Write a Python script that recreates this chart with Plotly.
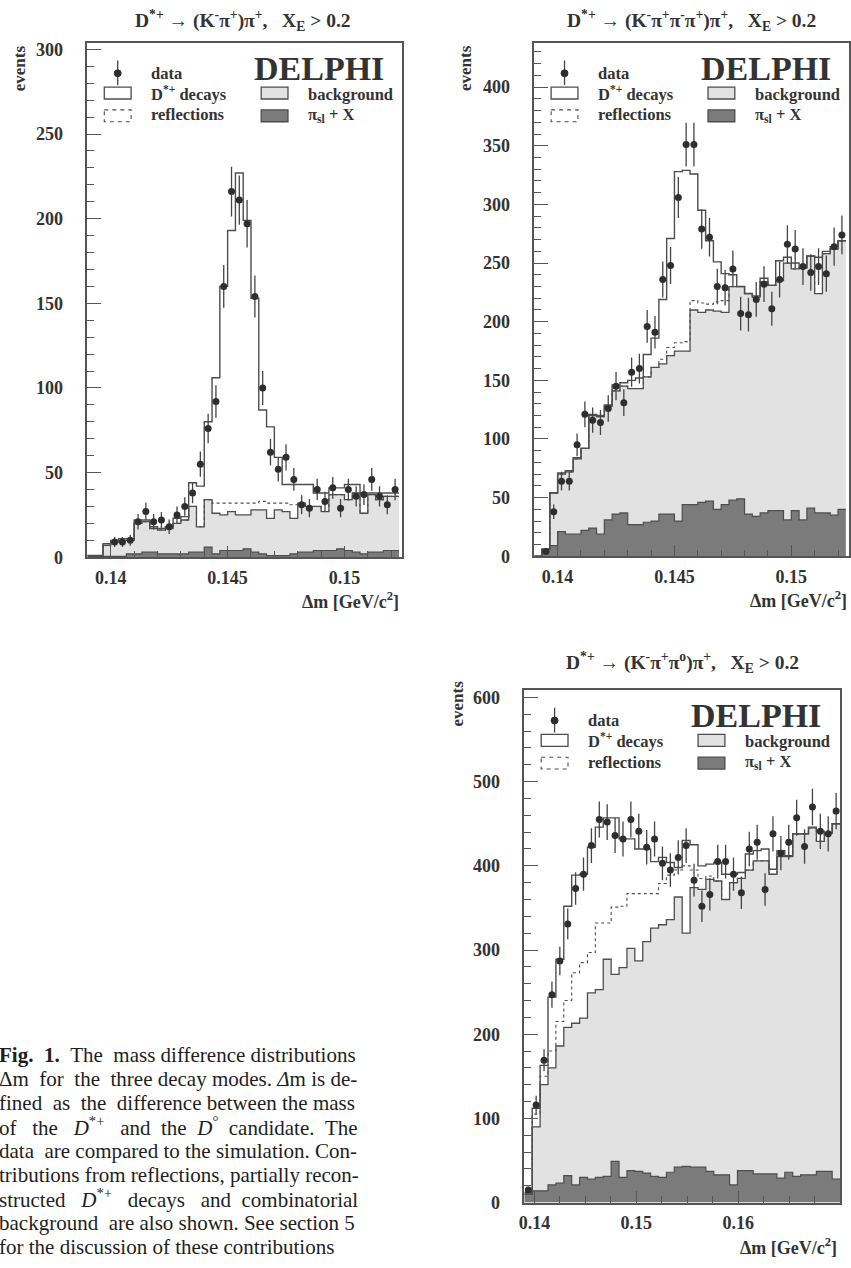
import math
import re
import plotly.graph_objects as go

W, H = 851, 1268

# ---------------- binning ----------------
BIN_LO = 0.139
BIN_W_A = 0.0003333333   # panels 1 and 2
BIN_W_B = 0.000775       # panel 3
N_BINS = 40

# ---------------- panel 1: D*+ -> (K- pi+) pi+ ----------------
p1_data = [None, None, None, 9, 9, 10, 21, 27, 21, 22, 18, 25, 30, 38, 55, 76, 92, 160, 216, 211,
           197, 154, 100, 62, 52, 59, 46, 31, 29, 40, 33, 41, 29, 40, 36, 37, 46, 36, 31, 40]
p1_total = [1, 1, 8, 10, 11, 11, 22, 22, 18, 17, 18, 23, 24, 44, 42, 80, 106, 160, 193, 227,
            199, 153, 87, 77, 59, 43, 43, 43, 43, 38, 38, 41, 41, 43, 43, 38, 38, 38, 38, 38]
p1_bkg_refl = [1, 1, 7, 9, 10, 10, 20, 21, 17, 16, 17, 20, 22, 30, 18, 34, 32, 32, 32, 32,
               32, 32, 33, 32, 32, 32, 31, 32, 30, 30, 27, 37, 37, 34, 38, 26, 37, 34, 36, 36]
p1_bkg = [1, 1, 7, 9, 10, 10, 20, 21, 17, 16, 17, 20, 22, 30, 18, 34, 26, 25, 27, 25,
          25, 28, 28, 23, 28, 27, 23, 32, 30, 30, 27, 37, 37, 34, 38, 26, 37, 34, 36, 36]
p1_pisl = [0.5, 0.5, 0.5, 0.5, 0.5, 2, 2, 3, 3, 2, 2, 2, 2, 3, 3, 6, 2, 4, 4, 4,
           5, 3, 2, 1, 1, 1, 2, 3, 3, 4, 4, 4, 5, 4, 3, 2, 3, 3, 4, 4]

# ---------------- panel 2: D*+ -> (K- pi+ pi- pi+) pi+ ----------------
p2_data = [None, 4, 38, 64, 64, 95, 121, 116, 114, 126, 145, 131, 157, 160, 196, 191, 236, 248, 306, 351,
           351, 279, 272, 230, 229, 245, 207, 206, 219, 232, 211, 236, 266, 262, 247, 242, 247, 241, 264, 274]
p2_total = [0, 6, 54, 71, 73, 84, 92, 121, 120, 129, 146, 148, 150, 152, 172, 186, 219, 271, 328, 329,
            326, 295, 269, 251, 241, 240, 230, 224, 222, 237, 231, 252, 255, 250, 246, 256, 255, 260, 264, 269]
p2_bkg_refl = [0, 6, 54, 70, 72, 83, 92, 120, 119, 128, 141, 145, 143, 143, 153, 161, 168, 178, 182, 183,
               218, 216, 215, 217, 218, 230, 230, 224, 221, 234, 231, 235, 250, 245, 246, 256, 224, 258, 262, 269]
p2_bkg = [0, 6, 54, 70, 72, 83, 92, 120, 119, 128, 141, 145, 143, 143, 153, 161, 164, 171, 175, 175,
          210, 208, 210, 209, 208, 230, 230, 224, 221, 234, 231, 235, 250, 245, 246, 256, 224, 258, 262, 269]
p2_pisl = [0, 6, 9, 21, 19, 19, 22, 24, 19, 31, 36, 37, 27, 27, 29, 30, 36, 36, 30, 44,
           44, 46, 47, 40, 44, 48, 49, 36, 34, 37, 39, 39, 31, 39, 31, 41, 37, 37, 35, 40]

# ---------------- panel 3: D*+ -> (K- pi+ pi0) pi+ ----------------
p3_data = [15, 116, 169, 247, 287, 331, 373, 390, 424, 455, 452, 436, 432, 455, 441, 422, 432, 403, 395, 410,
           424, 383, 352, 366, 405, 405, 390, 368, 420, 428, 372, 438, 415, 428, 457, 423, 470, 441, 438, 465]
p3_total = [12, 112, 163, 244, 289, 352, 389, 390, 422, 446, 457, 457, 432, 432, 420, 420, 405, 410, 404, 398,
            430, 425, 400, 402, 404, 390, 390, 392, 414, 418, 420, 396, 418, 412, 438, 438, 446, 441, 439, 450]
p3_bkg_refl = [10, 105, 150, 180, 215, 240, 273, 285, 297, 332, 332, 351, 352, 367, 367, 367, 367, 379, 389, 395,
               400, 395, 385, 388, 382, 360, 380, 385, 395, 406, 406, 390, 411, 411, 438, 438, 445, 429, 439, 450]
p3_bkg = [10, 90, 140, 160, 186, 208, 213, 219, 249, 253, 289, 271, 279, 302, 287, 310, 326, 330, 336, 363,
          320, 374, 372, 384, 382, 360, 380, 385, 395, 406, 406, 390, 411, 411, 438, 438, 445, 429, 439, 450]
p3_pisl = [10, 14, 14, 21, 23, 32, 21, 30, 28, 30, 31, 49, 30, 38, 37, 35, 31, 30, 36, 42,
           43, 42, 42, 37, 33, 33, 21, 38, 38, 34, 34, 34, 29, 36, 31, 33, 33, 37, 37, 28]

# ---------------- tick labels / texts ----------------
p12_xticks = [0.14, 0.145, 0.15]
p12_xticktext = ["0.14", "0.145", "0.15"]
p3_xticks = [0.14, 0.15, 0.16, 0.17]
p3_xticktext = ["0.14", "0.15", "0.16", "0.17"]
p1_yticks = [0, 50, 100, 150, 200, 250, 300]
p2_yticks = [0, 50, 100, 150, 200, 250, 300, 350, 400]
p3_yticks = [0, 100, 200, 300, 400, 500, 600]

titles = [
    "D<sup>*+</sup> \u2192 (K<sup>-</sup>\u03c0<sup>+</sup>)\u03c0<sup>+</sup>,\u00a0\u00a0 X<sub>E</sub> > 0.2",
    "D<sup>*+</sup> \u2192 (K<sup>-</sup>\u03c0<sup>+</sup>\u03c0<sup>-</sup>\u03c0<sup>+</sup>)\u03c0<sup>+</sup>,\u00a0\u00a0 X<sub>E</sub> > 0.2",
    "D<sup>*+</sup> \u2192 (K<sup>-</sup>\u03c0<sup>+</sup>\u03c0<sup>o</sup>)\u03c0<sup>+</sup>,\u00a0\u00a0 X<sub>E</sub> > 0.2",
]

caption_lines = [
    "<b>Fig. 1.</b> The mass difference distributions",
    "\u0394m for the three decay modes. <i>\u0394</i>m is de-",
    "fined as the difference between the mass",
    "of the <i>D</i><sup>*+</sup> and the <i>D</i><sup>\u00b0</sup> candidate. The",
    "data are compared to the simulation. Con-",
    "tributions from reflections, partially recon-",
    "structed <i>D</i><sup>*+</sup> decays and combinatorial",
    "background are also shown. See section 5",
    "for the discussion of these contributions",
]

# ---------------- styling ----------------
SERIF = "Liberation Serif"
LINE = "#4d4d4d"
FRAME = "#555555"
LIGHT = "#e2e2e2"
DARK = "#7b7b7b"
TXT = "#333333"

panels = [
    dict(n="", box=(83, 40, 400, 560), xr=[0.139, 0.15247], yr=[0, 304], bw=BIN_W_A,
         data=p1_data, total=p1_total, br=p1_bkg_refl, bkg=p1_bkg, pisl=p1_pisl,
         xt=p12_xticks, xtt=p12_xticktext, yt=p1_yticks, xminor=0.001, yminor=10,
         title=titles[0], title_xy=(240, 18), ev_xy=(14, 66), dm_xy=(399, 604)),
    dict(n="2", box=(533, 40, 850, 559), xr=[0.139, 0.15247], yr=[0, 438], bw=BIN_W_A,
         data=p2_data, total=p2_total, br=p2_bkg_refl, bkg=p2_bkg, pisl=p2_pisl,
         xt=p12_xticks, xtt=p12_xticktext, yt=p2_yticks, xminor=0.001, yminor=10,
         title=titles[1], title_xy=(691, 18), ev_xy=(464, 66), dm_xy=(850, 603)),
    dict(n="3", box=(523, 694, 841, 1212), xr=[0.139, 0.170], yr=[0, 609], bw=BIN_W_B,
         data=p3_data, total=p3_total, br=p3_bkg_refl, bkg=p3_bkg, pisl=p3_pisl,
         xt=p3_xticks, xtt=p3_xticktext, yt=p3_yticks, xminor=0.0025, yminor=20,
         title=titles[2], title_xy=(682, 666), ev_xy=(456, 708), dm_xy=(840, 1256)),
]

fig = go.Figure()
shapes = []
annotations = []
layout_axes = {}

TICKFONT = dict(family=SERIF, size=18, color=TXT, weight="bold")


def step(vals, edges):
    return edges, list(vals) + [vals[-1]]


for p in panels:
    n = p["n"]
    xa, ya = "x" + n, "y" + n
    x0, y0, x1, y1 = p["box"]
    pw, ph = x1 - x0, y1 - y0
    edges = [BIN_LO + i * p["bw"] for i in range(N_BINS + 1)]
    centers = [BIN_LO + (i + 0.5) * p["bw"] for i in range(N_BINS)]

    ex, ey = step(p["bkg"], edges)
    fig.add_trace(go.Scatter(x=ex, y=ey, mode="lines", line=dict(shape="hv", color=LINE, width=1.3),
                             fill="tozeroy", fillcolor=LIGHT, xaxis=xa, yaxis=ya, showlegend=False))
    ex, ey = step(p["pisl"], edges)
    fig.add_trace(go.Scatter(x=ex, y=ey, mode="lines", line=dict(shape="hv", color=LINE, width=1.2),
                             fill="tozeroy", fillcolor=DARK, xaxis=xa, yaxis=ya, showlegend=False))
    ex, ey = step(p["br"], edges)
    fig.add_trace(go.Scatter(x=ex, y=ey, mode="lines",
                             line=dict(shape="hv", color=LINE, width=1.1, dash="3px,3px"),
                             xaxis=xa, yaxis=ya, showlegend=False))
    ex, ey = step(p["total"], edges)
    fig.add_trace(go.Scatter(x=ex, y=ey, mode="lines", line=dict(shape="hv", color=LINE, width=1.4),
                             xaxis=xa, yaxis=ya, showlegend=False))
    errs = [math.sqrt(v) if v is not None else 0 for v in p["data"]]
    fig.add_trace(go.Scatter(x=centers, y=p["data"], mode="markers",
                             marker=dict(size=7, color="#2e2e2e"),
                             error_y=dict(type="data", array=errs, thickness=1.3, width=0, color="#444"),
                             xaxis=xa, yaxis=ya, showlegend=False))

    xkey = "xaxis" + n
    ykey = "yaxis" + n
    layout_axes[xkey] = dict(
        domain=[x0 / W, x1 / W], range=p["xr"], anchor=ya, showline=True, linecolor=FRAME,
        linewidth=1.5, mirror=True, ticks="inside", ticklen=12, tickwidth=1.2, tickcolor=FRAME,
        tickvals=p["xt"], ticktext=p["xtt"], tickfont=TICKFONT, showgrid=False, zeroline=False,
        ticklabelstandoff=3,
        minor=dict(ticks="inside", ticklen=7, tickwidth=1, tickcolor=FRAME, tick0=0.14,
                   dtick=p["xminor"], showgrid=False))
    layout_axes[ykey] = dict(
        domain=[1 - y1 / H, 1 - y0 / H], range=p["yr"], anchor=xa, showline=True, linecolor=FRAME,
        linewidth=1.5, mirror=True, ticks="inside", ticklen=14, tickwidth=1.2, tickcolor=FRAME,
        tickvals=p["yt"], ticktext=[str(v) for v in p["yt"]], tickfont=TICKFONT, showgrid=False,
        zeroline=False, ticklabelstandoff=19,
        minor=dict(ticks="inside", ticklen=7, tickwidth=1, tickcolor=FRAME, tick0=0,
                   dtick=p["yminor"], showgrid=False))

    xd, yd = xa + " domain", ya + " domain"

    def fx(px):
        return px / pw

    def fy(py):
        return 1 - py / ph

    # legend symbols
    shapes.append(dict(type="line", xref=xd, yref=yd, x0=fx(30.5), x1=fx(30.5), y0=fy(18), y1=fy(43),
                       line=dict(color="#444", width=1.3)))
    shapes.append(dict(type="circle", xref=xd, yref=yd, x0=fx(27), x1=fx(34), y0=fy(27.5), y1=fy(34.5),
                       fillcolor="#2e2e2e", line=dict(color="#2e2e2e", width=1)))
    shapes.append(dict(type="rect", xref=xd, yref=yd, x0=fx(17), x1=fx(44), y0=fy(45), y1=fy(57),
                       fillcolor="white", line=dict(color=LINE, width=1.3)))
    shapes.append(dict(type="rect", xref=xd, yref=yd, x0=fx(17), x1=fx(44), y0=fy(68), y1=fy(80),
                       fillcolor="white", line=dict(color=LINE, width=1.1, dash="4px,4px")))
    shapes.append(dict(type="rect", xref=xd, yref=yd, x0=fx(175), x1=fx(202), y0=fy(45), y1=fy(57),
                       fillcolor=LIGHT, line=dict(color=LINE, width=1.3)))
    shapes.append(dict(type="rect", xref=xd, yref=yd, x0=fx(175), x1=fx(202), y0=fy(68), y1=fy(80),
                       fillcolor=DARK, line=dict(color=LINE, width=1.3)))

    LF = dict(family=SERIF, size=16.5, color=TXT, weight="bold")
    for txt, lx, ly in [("data", 62, 31), ("D<sup>*+</sup> decays", 62, 51), ("reflections", 62, 73),
                        ("background", 220, 52), ("\u03c0<sub>sl</sub> + X", 220, 73)]:
        annotations.append(dict(text=txt, xref=xd, yref=yd, x=fx(lx), y=fy(ly), xanchor="left",
                                yanchor="middle", showarrow=False, font=LF))
    annotations.append(dict(text="DELPHI", xref=xd, yref=yd, x=fx(301), y=fy(26), xanchor="right",
                            yanchor="middle", showarrow=False,
                            font=dict(family=SERIF, size=34, color=TXT, weight="bold")))

    tx, ty = p["title_xy"]
    annotations.append(dict(text=p["title"], xref="paper", yref="paper", x=tx / W, y=1 - ty / H,
                            xanchor="center", yanchor="middle", showarrow=False,
                            font=dict(family=SERIF, size=19.5, color=TXT, weight="bold")))
    ex_, ey_ = p["ev_xy"]
    annotations.append(dict(text="events", xref="paper", yref="paper", x=ex_ / W, y=1 - ey_ / H,
                            xanchor="center", yanchor="middle", textangle=-90, showarrow=False,
                            font=dict(family=SERIF, size=17, color=TXT, weight="bold")))
    dx_, dy_ = p["dm_xy"]
    annotations.append(dict(text="\u0394m [GeV/c<sup>2</sup>]", xref="paper", yref="paper", x=dx_ / W,
                            y=1 - dy_ / H, xanchor="right", yanchor="middle", showarrow=False,
                            font=dict(family=SERIF, size=18, color=TXT, weight="bold")))

# ---------------- caption (justified with padded spaces) ----------------
CW = {' ': 250, '!': 333, '(': 333, ')': 333, '*': 500, '+': 564, ',': 250, '-': 333, '.': 250,
      '/': 278, ':': 278, ';': 278, '\u0394': 612, '\u00b0': 400}
for ch in "0123456789":
    CW[ch] = 500
CW.update(dict(zip("ABCDEFGHIJKLMNOPQRSTUVWXYZ",
                   [722, 667, 667, 722, 611, 556, 722, 722, 333, 389, 722, 611, 889, 722, 722, 556,
                    722, 667, 556, 611, 722, 722, 944, 722, 722, 611])))
CW.update(dict(zip("abcdefghijklmnopqrstuvwxyz",
                   [444, 500, 444, 500, 444, 333, 500, 500, 278, 278, 500, 278, 778, 500, 500, 500,
                    500, 333, 389, 278, 500, 500, 722, 500, 500, 444])))

CAP_SIZE = 21
CAP_PAD = 8          # annotation box inset before the text starts
CAP_TEXT_X0 = 0      # first glyph at the page's left edge
CAP_TEXT_X1 = 358
CAP_Y0 = 1063
CAP_DY = 24.2


def text_em(s):
    total = 0.0
    scale = 1.0
    for tok in re.split(r"(<[^>]+>)", s):
        if tok.startswith("<"):
            if tok in ("<sup>", "<sub>"):
                scale = 0.7
            elif tok in ("</sup>", "</sub>"):
                scale = 1.0
            continue
        for ch in tok:
            total += CW.get(ch, 500) * scale
    return total / 1000.0


for i, line in enumerate(caption_lines):
    words = line.split(" ")
    if i < len(caption_lines) - 1:
        gaps = len(words) - 1
        natural = sum(text_em(w) for w in words) * CAP_SIZE + gaps * 0.25 * CAP_SIZE
        extra = max(0, round(((CAP_TEXT_X1 - CAP_TEXT_X0) - natural) / (0.25 * CAP_SIZE)))
        base, rem = divmod(extra, gaps)
        out = words[0]
        for j, w in enumerate(words[1:]):
            k = base + (1 if j < rem else 0)
            out += " " + "\u00a0" * k + w
    else:
        out = line
    annotations.append(dict(text=out, xref="paper", yref="paper", x=(CAP_TEXT_X0 - CAP_PAD) / W,
                            y=1 - (CAP_Y0 + i * CAP_DY) / H, xanchor="left", yanchor="middle",
                            showarrow=False, font=dict(family=SERIF, size=CAP_SIZE, color="#1e1e1e")))

fig.update_layout(
    width=W, height=H, margin=dict(l=0, r=0, t=0, b=0),
    paper_bgcolor="white", plot_bgcolor="white",
    showlegend=False, shapes=shapes, annotations=annotations, **layout_axes)

fig.write_html("out.html")
